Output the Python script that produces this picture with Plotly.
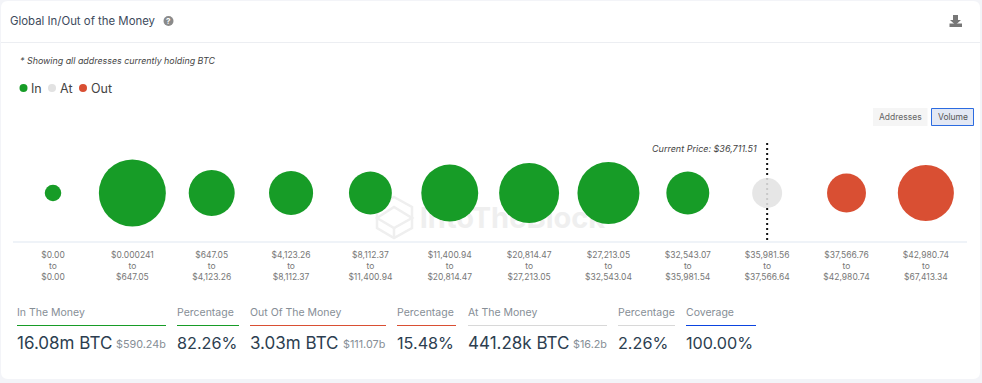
import plotly.graph_objects as go

# ---- data ----
range_low = ["$0.00", "$0.000241", "$647.05", "$4,123.26", "$8,112.37", "$11,400.94",
             "$20,814.47", "$27,213.05", "$32,543.07", "$35,981.56", "$37,566.76", "$42,980.74"]
range_high = ["$0.00", "$647.05", "$4,123.26", "$8,112.37", "$11,400.94", "$20,814.47",
              "$27,213.05", "$32,543.04", "$35,981.54", "$37,566.64", "$42,980.74", "$67,413.34"]
volume_m_btc = [0.19, 3.14, 1.48, 1.36, 1.29, 2.27, 2.52, 2.69, 1.29, 0.63, 1.06, 2.20]
status = ["In"] * 9 + ["At"] + ["Out"] * 2
current_price_bucket = 9
current_price_label = "Current Price: $36,711.51"
title = "Global In/Out of the Money"
subtitle = "* Showing all addresses currently holding BTC"
summary_labels = ["In The Money", "Percentage", "Out Of The Money", "Percentage",
                  "At The Money", "Percentage", "Coverage"]
summary_values = ["16.08m BTC", "82.26%", "3.03m BTC", "15.48%", "441.28k BTC", "2.26%", "100.00%"]
summary_usd = ["$590.24b", "", "$111.07b", "", "$16.2b", "", ""]

# ---- styles / layout ----
W, H = 982, 383
GREEN, RED, GREY, BLUE = "#179c27", "#d94f33", "#e2e2e2", "#0b44e0"
colors = {"In": GREEN, "At": GREY, "Out": RED}
INK = "#2c3e50"
MUTED = "#868e96"
FONT = "Inter, 'Noto Sans', sans-serif"


def px(x):
    return x / W


def py(y):
    return 1 - y / H


annotations = []
shapes = []


def text(x, y, s, size, color, anchor="left", weight=400, style="normal"):
    annotations.append(dict(
        x=px(x), y=py(y), xref="paper", yref="paper", text=s, showarrow=False,
        xanchor=anchor, yanchor="middle", borderpad=0, borderwidth=0,
        font=dict(family=FONT, size=size, color=color, weight=weight, style=style)))


def rect(x0, y0, x1, y1, fill=None, line=None, lw=1):
    shapes.append(dict(type="rect", xref="paper", yref="paper", layer="below",
                       x0=px(x0), x1=px(x1), y0=py(y0), y1=py(y1),
                       fillcolor=fill or "rgba(0,0,0,0)",
                       line=dict(color=line or "rgba(0,0,0,0)", width=lw if line else 0)))


def circle(cx, cy, r, fill):
    shapes.append(dict(type="circle", xref="paper", yref="paper", layer="below",
                       x0=px(cx - r), x1=px(cx + r), y0=py(cy - r), y1=py(cy + r),
                       fillcolor=fill, line=dict(width=0)))


def poly(points, fill=None, line=None, lw=1, closed=True):
    d = "M " + " L ".join(f"{px(a):.5f},{py(b):.5f}" for a, b in points) + (" Z" if closed else "")
    shapes.append(dict(type="path", xref="paper", yref="paper", layer="below", path=d,
                       fillcolor=fill or "rgba(0,0,0,0)",
                       line=dict(color=line or "rgba(0,0,0,0)", width=lw if line else 0)))


# card with rounded corners
L, T, R, B, rad = 1, 1, 980, 379, 7
shapes.append(dict(type="path", xref="paper", yref="paper", layer="below",
                   path=(f"M {px(L + rad)},{py(T)} L {px(R - rad)},{py(T)} "
                         f"Q {px(R)},{py(T)} {px(R)},{py(T + rad)} L {px(R)},{py(B - rad)} "
                         f"Q {px(R)},{py(B)} {px(R - rad)},{py(B)} L {px(L + rad)},{py(B)} "
                         f"Q {px(L)},{py(B)} {px(L)},{py(B - rad)} L {px(L)},{py(T + rad)} "
                         f"Q {px(L)},{py(T)} {px(L + rad)},{py(T)} Z"),
                   fillcolor="#ffffff", line=dict(width=0)))
rect(1, 42, 980, 43, fill="#eceef2")

# header
text(10, 21, title, 11.4, "#3d4a5c", weight=400)
circle(168.5, 21, 5, "#8a8a8a")
text(168.5, 21, "?", 8, "#ffffff", anchor="center", weight=700)
poly([(953, 15), (958, 15), (958, 20), (961, 20), (955.5, 25), (950, 20), (953, 20)], fill="#777777")
rect(949.5, 23.5, 962, 27, fill="#777777")
text(20, 60, subtitle, 8.9, "#444444", style="italic")

# legend
for cx, tx, name in [(23.5, 31, "In"), (52, 60, "At"), (83, 91, "Out")]:
    circle(cx, 88, 4, colors[name])
    text(tx, 88.5, name, 12.5, "#444444")

# toggle buttons
rect(873, 108, 927.5, 126, fill="#f5f5f5")
text(900, 117, "Addresses", 8.5, "#666666", anchor="center")
rect(931.5, 108.5, 973.5, 125.5, fill="#e3e8f4", line="#2b6be0", lw=1)
text(952.5, 117, "Volume", 8.5, "#555555", anchor="center")

# watermark logo
LOGO = "#efefef"
poly([(394, 197), (412, 207), (412, 228), (394, 238), (377, 228), (377, 207)], line=LOGO, lw=2.5)
poly([(377, 218), (394, 207), (412, 218), (394, 228)], line=LOGO, lw=2.5)
poly([(394, 228), (394, 238)], line=LOGO, lw=2.5, closed=False)

# baseline
rect(13, 241.5, 967, 242.5, fill="#dfe7f1")

# current price marker line, under the translucent At bubble
shapes.append(dict(type="line", xref="x", yref="paper", layer="below",
                   x0=current_price_bucket, x1=current_price_bucket, y0=py(143), y1=py(242),
                   line=dict(color="#111111", width=2, dash="2px,3px")))
text(757, 148.5, current_price_label, 9, "#444444", anchor="right", style="italic")

# summary strip
columns = [(17, 166, GREEN), (177, 239, GREEN), (250, 386, RED), (397, 456, RED),
           (468, 607, "#d8d8d8"), (618, 675, "#d8d8d8"), (686, 756, BLUE)]
for (x0, x1, c), lab, val, usd in zip(columns, summary_labels, summary_values, summary_usd):
    text(x0, 312, lab, 10.5, MUTED)
    rect(x0, 325, x1, 326, fill=c)
    text(x0, 342.5, val, 16.2 if val.endswith("%") else 17, INK)
    if usd:
        text(x1, 344, usd, 10.8, MUTED, anchor="right")

# ---- figure ----
fig = go.Figure()
fig.add_trace(go.Scatter(x=[5.79], y=[0.22], mode="text", text=["IntoTheBlock"], showlegend=False,
                         hoverinfo="skip", cliponaxis=False,
                         textfont=dict(family=FONT, size=29, color="#efefef", weight=700)))
for name in ["In", "At", "Out"]:
    idx = [i for i, s in enumerate(status) if s == name]
    fig.add_trace(go.Scatter(
        x=idx, y=[0.5] * len(idx), mode="markers", name=name, showlegend=False, cliponaxis=False,
        marker=dict(size=[volume_m_btc[i] for i in idx], sizemode="area", sizeref=0.0014,
                    color=colors[name], opacity=0.88 if name == "At" else 1, line=dict(width=0))))

x0_px, step = 53, 79.35
fig.update_layout(
    width=W, height=H, margin=dict(l=0, r=0, t=0, b=0), autosize=False,
    paper_bgcolor="#f3f4f8", plot_bgcolor="rgba(0,0,0,0)",
    font=dict(family=FONT), annotations=annotations, shapes=shapes, showlegend=False,
    xaxis=dict(domain=[px(x0_px - step / 2), px(x0_px + 11.5 * step)], range=[-0.5, 11.5],
               tickmode="array", tickvals=list(range(12)),
               ticktext=[f"{a}<br>to<br>{b}" for a, b in zip(range_low, range_high)],
               tickfont=dict(family=FONT, size=8.5, color="#777777"), tickangle=0,
               showgrid=False, zeroline=False, showline=False,
               ticks="outside", ticklen=5, tickcolor="rgba(0,0,0,0)", fixedrange=True),
    yaxis=dict(domain=[py(242), py(144)], range=[0, 1], visible=False, fixedrange=True),
)
fig.write_html("out.html", config=dict(displayModeBar=False),
               post_script="document.body.style.margin='0';document.body.style.overflow='hidden';")
